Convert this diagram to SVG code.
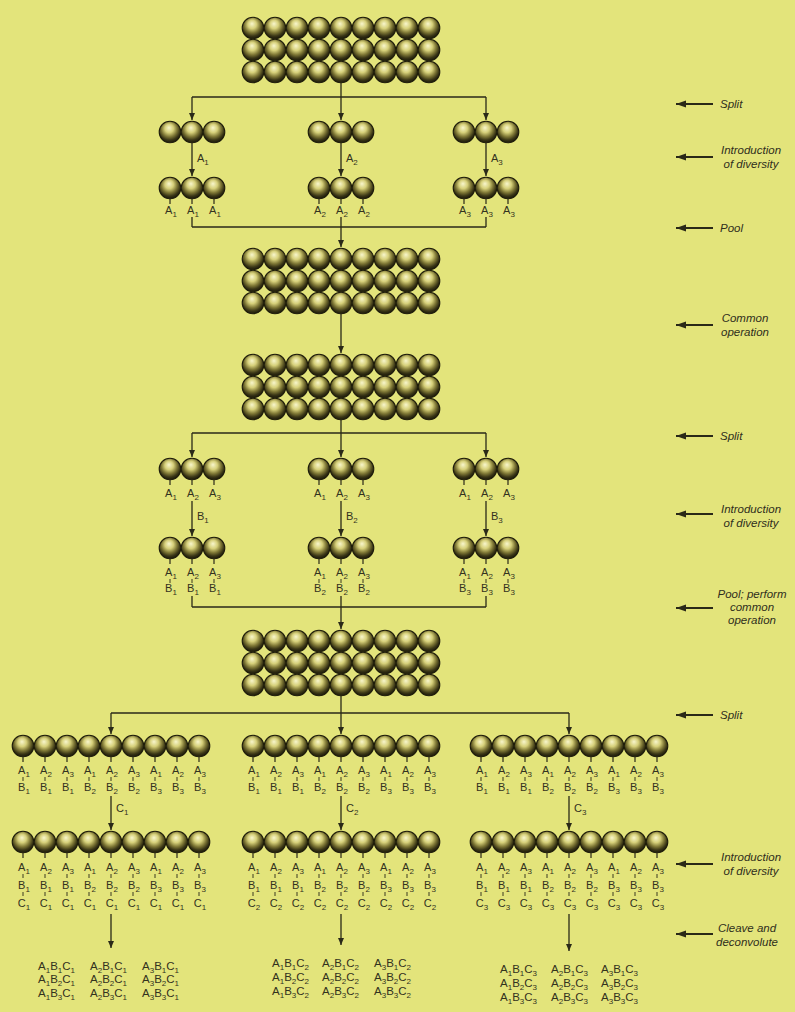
<svg xmlns="http://www.w3.org/2000/svg" xmlns:xlink="http://www.w3.org/1999/xlink" width="795" height="1012" viewBox="0 0 795 1012">
<style>
.bead{fill:url(#bg);stroke:#1f1d0b;stroke-width:1.1}
.ln{stroke:#2a2918;stroke-width:1.3;fill:none}
.ar{marker-end:url(#ah)}
.st{stroke:#2a2918;stroke-width:1.2}
.tk{stroke:#3b3a22;stroke-width:1}
.lb{font-family:"Liberation Sans",Arial,sans-serif;font-size:11px;fill:#33321e;text-anchor:middle}
.la{font-family:"Liberation Sans",Arial,sans-serif;font-size:11px;fill:#33321e}
.cb{font-family:"Liberation Sans",Arial,sans-serif;font-size:11.5px;fill:#33321e}
.sb{font-size:8px}
.side{font-family:"Liberation Sans",Arial,sans-serif;font-style:italic;font-size:11.5px;fill:#2f2e1c}
.mid{text-anchor:middle}
.sa{stroke:#2a2918;stroke-width:2.2;marker-end:url(#ahb)}
</style>
<defs>
<radialGradient id="bg" cx="0.48" cy="0.4" r="0.6" fx="0.45" fy="0.3">
<stop offset="0" stop-color="#f8f6cc"/>
<stop offset="0.33" stop-color="#d6d07a"/>
<stop offset="0.6" stop-color="#7f7836"/>
<stop offset="0.82" stop-color="#3a3616"/>
<stop offset="1" stop-color="#1a180a"/>
</radialGradient>
<marker id="ah" markerUnits="userSpaceOnUse" markerWidth="9" markerHeight="8" refX="7" refY="3" orient="auto">
<path d="M0,0 L7,3 L0,6 z" fill="#2a2918"/>
</marker>
<marker id="ahb" markerUnits="userSpaceOnUse" markerWidth="12" markerHeight="10" refX="10" refY="3.5" orient="auto">
<path d="M0,0 L10,3.5 L0,7 z" fill="#2a2918"/>
</marker>
<g id="row3">
<circle class="bead" cx="-22" cy="0" r="10.8"/>
<circle class="bead" cx="0" cy="0" r="10.8"/>
<circle class="bead" cx="22" cy="0" r="10.8"/>
</g>
<g id="row9">
<circle class="bead" cx="-88" cy="0" r="10.8"/>
<circle class="bead" cx="-66" cy="0" r="10.8"/>
<circle class="bead" cx="-44" cy="0" r="10.8"/>
<circle class="bead" cx="-22" cy="0" r="10.8"/>
<circle class="bead" cx="0" cy="0" r="10.8"/>
<circle class="bead" cx="22" cy="0" r="10.8"/>
<circle class="bead" cx="44" cy="0" r="10.8"/>
<circle class="bead" cx="66" cy="0" r="10.8"/>
<circle class="bead" cx="88" cy="0" r="10.8"/>
</g>
<g id="grid">
<use href="#row9" y="-22"/>
<use href="#row9" y="0"/>
<use href="#row9" y="22"/>
</g>
<g id="stem3">
<line class="st" x1="-22" y1="11" x2="-22" y2="16"/>
<line class="st" x1="0" y1="11" x2="0" y2="16"/>
<line class="st" x1="22" y1="11" x2="22" y2="16"/>
</g>
<g id="stem9">
<line class="st" x1="-88" y1="11" x2="-88" y2="16"/>
<line class="st" x1="-66" y1="11" x2="-66" y2="16"/>
<line class="st" x1="-44" y1="11" x2="-44" y2="16"/>
<line class="st" x1="-22" y1="11" x2="-22" y2="16"/>
<line class="st" x1="0" y1="11" x2="0" y2="16"/>
<line class="st" x1="22" y1="11" x2="22" y2="16"/>
<line class="st" x1="44" y1="11" x2="44" y2="16"/>
<line class="st" x1="66" y1="11" x2="66" y2="16"/>
<line class="st" x1="88" y1="11" x2="88" y2="16"/>
</g>
<g id="tick3">
<line class="tk" x1="-22" y1="0" x2="-22" y2="4"/>
<line class="tk" x1="0" y1="0" x2="0" y2="4"/>
<line class="tk" x1="22" y1="0" x2="22" y2="4"/>
</g>
<g id="tick9">
<line class="tk" x1="-88" y1="0" x2="-88" y2="4"/>
<line class="tk" x1="-66" y1="0" x2="-66" y2="4"/>
<line class="tk" x1="-44" y1="0" x2="-44" y2="4"/>
<line class="tk" x1="-22" y1="0" x2="-22" y2="4"/>
<line class="tk" x1="0" y1="0" x2="0" y2="4"/>
<line class="tk" x1="22" y1="0" x2="22" y2="4"/>
<line class="tk" x1="44" y1="0" x2="44" y2="4"/>
<line class="tk" x1="66" y1="0" x2="66" y2="4"/>
<line class="tk" x1="88" y1="0" x2="88" y2="4"/>
</g>
</defs>

<rect width="795" height="1012" fill="#e3e47b"/>

<!-- connectors -->
<g id="connectors">
<line class="ln" x1="341" y1="83" x2="341" y2="97"/>
<line class="ln" x1="192" y1="97" x2="486" y2="97"/>
<line class="ln ar" x1="192" y1="97" x2="192" y2="120"/>
<line class="ln ar" x1="341" y1="97" x2="341" y2="120"/>
<line class="ln ar" x1="486" y1="97" x2="486" y2="120"/>
<line class="ln ar" x1="192" y1="143" x2="192" y2="176"/>
<line class="ln ar" x1="341" y1="143" x2="341" y2="176"/>
<line class="ln ar" x1="486" y1="143" x2="486" y2="176"/>
<line class="ln" x1="192" y1="217" x2="192" y2="227"/>
<line class="ln" x1="341" y1="217" x2="341" y2="227"/>
<line class="ln" x1="486" y1="217" x2="486" y2="227"/>
<line class="ln" x1="192" y1="227" x2="486" y2="227"/>
<line class="ln ar" x1="341" y1="227" x2="341" y2="247"/>
<line class="ln ar" x1="341" y1="314" x2="341" y2="353"/>
<line class="ln" x1="341" y1="420" x2="341" y2="433"/>
<line class="ln" x1="192" y1="433" x2="486" y2="433"/>
<line class="ln ar" x1="192" y1="433" x2="192" y2="457"/>
<line class="ln ar" x1="341" y1="433" x2="341" y2="457"/>
<line class="ln ar" x1="486" y1="433" x2="486" y2="457"/>
<line class="ln ar" x1="192" y1="501" x2="192" y2="536"/>
<line class="ln ar" x1="341" y1="501" x2="341" y2="536"/>
<line class="ln ar" x1="486" y1="501" x2="486" y2="536"/>
<line class="ln" x1="192" y1="596" x2="192" y2="607"/>
<line class="ln" x1="341" y1="596" x2="341" y2="607"/>
<line class="ln" x1="486" y1="596" x2="486" y2="607"/>
<line class="ln" x1="192" y1="607" x2="486" y2="607"/>
<line class="ln ar" x1="341" y1="607" x2="341" y2="629"/>
<line class="ln" x1="341" y1="696" x2="341" y2="713"/>
<line class="ln" x1="111" y1="713" x2="569" y2="713"/>
<line class="ln ar" x1="111" y1="713" x2="111" y2="734"/>
<line class="ln ar" x1="341" y1="713" x2="341" y2="734"/>
<line class="ln ar" x1="569" y1="713" x2="569" y2="734"/>
<line class="ln ar" x1="111" y1="796" x2="111" y2="830"/>
<line class="ln ar" x1="341" y1="796" x2="341" y2="830"/>
<line class="ln ar" x1="569" y1="796" x2="569" y2="830"/>
<line class="ln ar" x1="111" y1="914" x2="111" y2="948"/>
<line class="ln ar" x1="341" y1="914" x2="341" y2="945"/>
<line class="ln ar" x1="569" y1="914" x2="569" y2="951"/>
</g>

<!-- reagent labels beside the diversity arrows -->
<g id="reagents" class="la">
<text x="197" y="162">A<tspan class="sb" dy="2.5">1</tspan></text>
<text x="346" y="162">A<tspan class="sb" dy="2.5">2</tspan></text>
<text x="491" y="162">A<tspan class="sb" dy="2.5">3</tspan></text>
<text x="197" y="520">B<tspan class="sb" dy="2.5">1</tspan></text>
<text x="346" y="520">B<tspan class="sb" dy="2.5">2</tspan></text>
<text x="491" y="520">B<tspan class="sb" dy="2.5">3</tspan></text>
<text x="116" y="812">C<tspan class="sb" dy="2.5">1</tspan></text>
<text x="346" y="812">C<tspan class="sb" dy="2.5">2</tspan></text>
<text x="574" y="812">C<tspan class="sb" dy="2.5">3</tspan></text>
</g>

<!-- starting pool -->
<g id="pool0"><use href="#grid" x="341" y="50"/></g>

<!-- first split -->
<g id="s1a"><use href="#row3" x="192" y="132"/></g>
<g id="s1b"><use href="#row3" x="341" y="132"/></g>
<g id="s1c"><use href="#row3" x="486" y="132"/></g>

<g id="a1set">
<use href="#row3" x="192" y="188"/><use href="#stem3" x="192" y="188"/>
<g class="lb">
<text x="171" y="214">A<tspan class="sb" dy="2.5">1</tspan></text>
<text x="193" y="214">A<tspan class="sb" dy="2.5">1</tspan></text>
<text x="215" y="214">A<tspan class="sb" dy="2.5">1</tspan></text>
</g></g>
<g id="a2set">
<use href="#row3" x="341" y="188"/><use href="#stem3" x="341" y="188"/>
<g class="lb">
<text x="320" y="214">A<tspan class="sb" dy="2.5">2</tspan></text>
<text x="342" y="214">A<tspan class="sb" dy="2.5">2</tspan></text>
<text x="364" y="214">A<tspan class="sb" dy="2.5">2</tspan></text>
</g></g>
<g id="a3set">
<use href="#row3" x="486" y="188"/><use href="#stem3" x="486" y="188"/>
<g class="lb">
<text x="465" y="214">A<tspan class="sb" dy="2.5">3</tspan></text>
<text x="487" y="214">A<tspan class="sb" dy="2.5">3</tspan></text>
<text x="509" y="214">A<tspan class="sb" dy="2.5">3</tspan></text>
</g></g>

<!-- pooled A library, before and after common step -->
<g id="pool1"><use href="#grid" x="341" y="281"/></g>
<g id="pool2"><use href="#grid" x="341" y="387"/></g>

<!-- second split -->
<g id="s2a">
<use href="#row3" x="192" y="469"/><use href="#stem3" x="192" y="469"/>
<g class="lb">
<text x="171" y="497">A<tspan class="sb" dy="2.5">1</tspan></text>
<text x="193" y="497">A<tspan class="sb" dy="2.5">2</tspan></text>
<text x="215" y="497">A<tspan class="sb" dy="2.5">3</tspan></text>
</g></g>
<g id="s2b">
<use href="#row3" x="341" y="469"/><use href="#stem3" x="341" y="469"/>
<g class="lb">
<text x="320" y="497">A<tspan class="sb" dy="2.5">1</tspan></text>
<text x="342" y="497">A<tspan class="sb" dy="2.5">2</tspan></text>
<text x="364" y="497">A<tspan class="sb" dy="2.5">3</tspan></text>
</g></g>
<g id="s2c">
<use href="#row3" x="486" y="469"/><use href="#stem3" x="486" y="469"/>
<g class="lb">
<text x="465" y="497">A<tspan class="sb" dy="2.5">1</tspan></text>
<text x="487" y="497">A<tspan class="sb" dy="2.5">2</tspan></text>
<text x="509" y="497">A<tspan class="sb" dy="2.5">3</tspan></text>
</g></g>

<g id="b1set">
<use href="#row3" x="192" y="548"/><use href="#stem3" x="192" y="548"/><use href="#tick3" x="192" y="579"/>
<g class="lb">
<text x="171" y="576">A<tspan class="sb" dy="2.5">1</tspan></text>
<text x="193" y="576">A<tspan class="sb" dy="2.5">2</tspan></text>
<text x="215" y="576">A<tspan class="sb" dy="2.5">3</tspan></text>
<text x="171" y="592">B<tspan class="sb" dy="2.5">1</tspan></text>
<text x="193" y="592">B<tspan class="sb" dy="2.5">1</tspan></text>
<text x="215" y="592">B<tspan class="sb" dy="2.5">1</tspan></text>
</g></g>
<g id="b2set">
<use href="#row3" x="341" y="548"/><use href="#stem3" x="341" y="548"/><use href="#tick3" x="341" y="579"/>
<g class="lb">
<text x="320" y="576">A<tspan class="sb" dy="2.5">1</tspan></text>
<text x="342" y="576">A<tspan class="sb" dy="2.5">2</tspan></text>
<text x="364" y="576">A<tspan class="sb" dy="2.5">3</tspan></text>
<text x="320" y="592">B<tspan class="sb" dy="2.5">2</tspan></text>
<text x="342" y="592">B<tspan class="sb" dy="2.5">2</tspan></text>
<text x="364" y="592">B<tspan class="sb" dy="2.5">2</tspan></text>
</g></g>
<g id="b3set">
<use href="#row3" x="486" y="548"/><use href="#stem3" x="486" y="548"/><use href="#tick3" x="486" y="579"/>
<g class="lb">
<text x="465" y="576">A<tspan class="sb" dy="2.5">1</tspan></text>
<text x="487" y="576">A<tspan class="sb" dy="2.5">2</tspan></text>
<text x="509" y="576">A<tspan class="sb" dy="2.5">3</tspan></text>
<text x="465" y="592">B<tspan class="sb" dy="2.5">3</tspan></text>
<text x="487" y="592">B<tspan class="sb" dy="2.5">3</tspan></text>
<text x="509" y="592">B<tspan class="sb" dy="2.5">3</tspan></text>
</g></g>

<!-- pooled AB library -->
<g id="pool3"><use href="#grid" x="341" y="663"/></g>

<!-- third split: left -->
<g id="s3a">
<use href="#row9" x="111" y="746"/><use href="#stem9" x="111" y="746"/><use href="#tick9" x="111" y="777"/>
<g class="lb">
<text x="24" y="774">A<tspan class="sb" dy="2.5">1</tspan></text>
<text x="46" y="774">A<tspan class="sb" dy="2.5">2</tspan></text>
<text x="68" y="774">A<tspan class="sb" dy="2.5">3</tspan></text>
<text x="90" y="774">A<tspan class="sb" dy="2.5">1</tspan></text>
<text x="112" y="774">A<tspan class="sb" dy="2.5">2</tspan></text>
<text x="134" y="774">A<tspan class="sb" dy="2.5">3</tspan></text>
<text x="156" y="774">A<tspan class="sb" dy="2.5">1</tspan></text>
<text x="178" y="774">A<tspan class="sb" dy="2.5">2</tspan></text>
<text x="200" y="774">A<tspan class="sb" dy="2.5">3</tspan></text>
<text x="24" y="791">B<tspan class="sb" dy="2.5">1</tspan></text>
<text x="46" y="791">B<tspan class="sb" dy="2.5">1</tspan></text>
<text x="68" y="791">B<tspan class="sb" dy="2.5">1</tspan></text>
<text x="90" y="791">B<tspan class="sb" dy="2.5">2</tspan></text>
<text x="112" y="791">B<tspan class="sb" dy="2.5">2</tspan></text>
<text x="134" y="791">B<tspan class="sb" dy="2.5">2</tspan></text>
<text x="156" y="791">B<tspan class="sb" dy="2.5">3</tspan></text>
<text x="178" y="791">B<tspan class="sb" dy="2.5">3</tspan></text>
<text x="200" y="791">B<tspan class="sb" dy="2.5">3</tspan></text>
</g></g>
<!-- third split: middle -->
<g id="s3b">
<use href="#row9" x="341" y="746"/><use href="#stem9" x="341" y="746"/><use href="#tick9" x="341" y="777"/>
<g class="lb">
<text x="254" y="774">A<tspan class="sb" dy="2.5">1</tspan></text>
<text x="276" y="774">A<tspan class="sb" dy="2.5">2</tspan></text>
<text x="298" y="774">A<tspan class="sb" dy="2.5">3</tspan></text>
<text x="320" y="774">A<tspan class="sb" dy="2.5">1</tspan></text>
<text x="342" y="774">A<tspan class="sb" dy="2.5">2</tspan></text>
<text x="364" y="774">A<tspan class="sb" dy="2.5">3</tspan></text>
<text x="386" y="774">A<tspan class="sb" dy="2.5">1</tspan></text>
<text x="408" y="774">A<tspan class="sb" dy="2.5">2</tspan></text>
<text x="430" y="774">A<tspan class="sb" dy="2.5">3</tspan></text>
<text x="254" y="791">B<tspan class="sb" dy="2.5">1</tspan></text>
<text x="276" y="791">B<tspan class="sb" dy="2.5">1</tspan></text>
<text x="298" y="791">B<tspan class="sb" dy="2.5">1</tspan></text>
<text x="320" y="791">B<tspan class="sb" dy="2.5">2</tspan></text>
<text x="342" y="791">B<tspan class="sb" dy="2.5">2</tspan></text>
<text x="364" y="791">B<tspan class="sb" dy="2.5">2</tspan></text>
<text x="386" y="791">B<tspan class="sb" dy="2.5">3</tspan></text>
<text x="408" y="791">B<tspan class="sb" dy="2.5">3</tspan></text>
<text x="430" y="791">B<tspan class="sb" dy="2.5">3</tspan></text>
</g></g>
<!-- third split: right -->
<g id="s3c">
<use href="#row9" x="569" y="746"/><use href="#stem9" x="569" y="746"/><use href="#tick9" x="569" y="777"/>
<g class="lb">
<text x="482" y="774">A<tspan class="sb" dy="2.5">1</tspan></text>
<text x="504" y="774">A<tspan class="sb" dy="2.5">2</tspan></text>
<text x="526" y="774">A<tspan class="sb" dy="2.5">3</tspan></text>
<text x="548" y="774">A<tspan class="sb" dy="2.5">1</tspan></text>
<text x="570" y="774">A<tspan class="sb" dy="2.5">2</tspan></text>
<text x="592" y="774">A<tspan class="sb" dy="2.5">3</tspan></text>
<text x="614" y="774">A<tspan class="sb" dy="2.5">1</tspan></text>
<text x="636" y="774">A<tspan class="sb" dy="2.5">2</tspan></text>
<text x="658" y="774">A<tspan class="sb" dy="2.5">3</tspan></text>
<text x="482" y="791">B<tspan class="sb" dy="2.5">1</tspan></text>
<text x="504" y="791">B<tspan class="sb" dy="2.5">1</tspan></text>
<text x="526" y="791">B<tspan class="sb" dy="2.5">1</tspan></text>
<text x="548" y="791">B<tspan class="sb" dy="2.5">2</tspan></text>
<text x="570" y="791">B<tspan class="sb" dy="2.5">2</tspan></text>
<text x="592" y="791">B<tspan class="sb" dy="2.5">2</tspan></text>
<text x="614" y="791">B<tspan class="sb" dy="2.5">3</tspan></text>
<text x="636" y="791">B<tspan class="sb" dy="2.5">3</tspan></text>
<text x="658" y="791">B<tspan class="sb" dy="2.5">3</tspan></text>
</g></g>

<!-- C-coupled sets -->
<g id="c1set">
<use href="#row9" x="111" y="842"/><use href="#stem9" x="111" y="842"/><use href="#tick9" x="111" y="874"/><use href="#tick9" x="111" y="892"/>
<g class="lb">
<text x="24" y="871">A<tspan class="sb" dy="2.5">1</tspan></text>
<text x="46" y="871">A<tspan class="sb" dy="2.5">2</tspan></text>
<text x="68" y="871">A<tspan class="sb" dy="2.5">3</tspan></text>
<text x="90" y="871">A<tspan class="sb" dy="2.5">1</tspan></text>
<text x="112" y="871">A<tspan class="sb" dy="2.5">2</tspan></text>
<text x="134" y="871">A<tspan class="sb" dy="2.5">3</tspan></text>
<text x="156" y="871">A<tspan class="sb" dy="2.5">1</tspan></text>
<text x="178" y="871">A<tspan class="sb" dy="2.5">2</tspan></text>
<text x="200" y="871">A<tspan class="sb" dy="2.5">3</tspan></text>
<text x="24" y="889">B<tspan class="sb" dy="2.5">1</tspan></text>
<text x="46" y="889">B<tspan class="sb" dy="2.5">1</tspan></text>
<text x="68" y="889">B<tspan class="sb" dy="2.5">1</tspan></text>
<text x="90" y="889">B<tspan class="sb" dy="2.5">2</tspan></text>
<text x="112" y="889">B<tspan class="sb" dy="2.5">2</tspan></text>
<text x="134" y="889">B<tspan class="sb" dy="2.5">2</tspan></text>
<text x="156" y="889">B<tspan class="sb" dy="2.5">3</tspan></text>
<text x="178" y="889">B<tspan class="sb" dy="2.5">3</tspan></text>
<text x="200" y="889">B<tspan class="sb" dy="2.5">3</tspan></text>
<text x="24" y="907">C<tspan class="sb" dy="2.5">1</tspan></text>
<text x="46" y="907">C<tspan class="sb" dy="2.5">1</tspan></text>
<text x="68" y="907">C<tspan class="sb" dy="2.5">1</tspan></text>
<text x="90" y="907">C<tspan class="sb" dy="2.5">1</tspan></text>
<text x="112" y="907">C<tspan class="sb" dy="2.5">1</tspan></text>
<text x="134" y="907">C<tspan class="sb" dy="2.5">1</tspan></text>
<text x="156" y="907">C<tspan class="sb" dy="2.5">1</tspan></text>
<text x="178" y="907">C<tspan class="sb" dy="2.5">1</tspan></text>
<text x="200" y="907">C<tspan class="sb" dy="2.5">1</tspan></text>
</g></g>
<g id="c2set">
<use href="#row9" x="341" y="842"/><use href="#stem9" x="341" y="842"/><use href="#tick9" x="341" y="874"/><use href="#tick9" x="341" y="892"/>
<g class="lb">
<text x="254" y="871">A<tspan class="sb" dy="2.5">1</tspan></text>
<text x="276" y="871">A<tspan class="sb" dy="2.5">2</tspan></text>
<text x="298" y="871">A<tspan class="sb" dy="2.5">3</tspan></text>
<text x="320" y="871">A<tspan class="sb" dy="2.5">1</tspan></text>
<text x="342" y="871">A<tspan class="sb" dy="2.5">2</tspan></text>
<text x="364" y="871">A<tspan class="sb" dy="2.5">3</tspan></text>
<text x="386" y="871">A<tspan class="sb" dy="2.5">1</tspan></text>
<text x="408" y="871">A<tspan class="sb" dy="2.5">2</tspan></text>
<text x="430" y="871">A<tspan class="sb" dy="2.5">3</tspan></text>
<text x="254" y="889">B<tspan class="sb" dy="2.5">1</tspan></text>
<text x="276" y="889">B<tspan class="sb" dy="2.5">1</tspan></text>
<text x="298" y="889">B<tspan class="sb" dy="2.5">1</tspan></text>
<text x="320" y="889">B<tspan class="sb" dy="2.5">2</tspan></text>
<text x="342" y="889">B<tspan class="sb" dy="2.5">2</tspan></text>
<text x="364" y="889">B<tspan class="sb" dy="2.5">2</tspan></text>
<text x="386" y="889">B<tspan class="sb" dy="2.5">3</tspan></text>
<text x="408" y="889">B<tspan class="sb" dy="2.5">3</tspan></text>
<text x="430" y="889">B<tspan class="sb" dy="2.5">3</tspan></text>
<text x="254" y="907">C<tspan class="sb" dy="2.5">2</tspan></text>
<text x="276" y="907">C<tspan class="sb" dy="2.5">2</tspan></text>
<text x="298" y="907">C<tspan class="sb" dy="2.5">2</tspan></text>
<text x="320" y="907">C<tspan class="sb" dy="2.5">2</tspan></text>
<text x="342" y="907">C<tspan class="sb" dy="2.5">2</tspan></text>
<text x="364" y="907">C<tspan class="sb" dy="2.5">2</tspan></text>
<text x="386" y="907">C<tspan class="sb" dy="2.5">2</tspan></text>
<text x="408" y="907">C<tspan class="sb" dy="2.5">2</tspan></text>
<text x="430" y="907">C<tspan class="sb" dy="2.5">2</tspan></text>
</g></g>
<g id="c3set">
<use href="#row9" x="569" y="842"/><use href="#stem9" x="569" y="842"/><use href="#tick9" x="569" y="874"/><use href="#tick9" x="569" y="892"/>
<g class="lb">
<text x="482" y="871">A<tspan class="sb" dy="2.5">1</tspan></text>
<text x="504" y="871">A<tspan class="sb" dy="2.5">2</tspan></text>
<text x="526" y="871">A<tspan class="sb" dy="2.5">3</tspan></text>
<text x="548" y="871">A<tspan class="sb" dy="2.5">1</tspan></text>
<text x="570" y="871">A<tspan class="sb" dy="2.5">2</tspan></text>
<text x="592" y="871">A<tspan class="sb" dy="2.5">3</tspan></text>
<text x="614" y="871">A<tspan class="sb" dy="2.5">1</tspan></text>
<text x="636" y="871">A<tspan class="sb" dy="2.5">2</tspan></text>
<text x="658" y="871">A<tspan class="sb" dy="2.5">3</tspan></text>
<text x="482" y="889">B<tspan class="sb" dy="2.5">1</tspan></text>
<text x="504" y="889">B<tspan class="sb" dy="2.5">1</tspan></text>
<text x="526" y="889">B<tspan class="sb" dy="2.5">1</tspan></text>
<text x="548" y="889">B<tspan class="sb" dy="2.5">2</tspan></text>
<text x="570" y="889">B<tspan class="sb" dy="2.5">2</tspan></text>
<text x="592" y="889">B<tspan class="sb" dy="2.5">2</tspan></text>
<text x="614" y="889">B<tspan class="sb" dy="2.5">3</tspan></text>
<text x="636" y="889">B<tspan class="sb" dy="2.5">3</tspan></text>
<text x="658" y="889">B<tspan class="sb" dy="2.5">3</tspan></text>
<text x="482" y="907">C<tspan class="sb" dy="2.5">3</tspan></text>
<text x="504" y="907">C<tspan class="sb" dy="2.5">3</tspan></text>
<text x="526" y="907">C<tspan class="sb" dy="2.5">3</tspan></text>
<text x="548" y="907">C<tspan class="sb" dy="2.5">3</tspan></text>
<text x="570" y="907">C<tspan class="sb" dy="2.5">3</tspan></text>
<text x="592" y="907">C<tspan class="sb" dy="2.5">3</tspan></text>
<text x="614" y="907">C<tspan class="sb" dy="2.5">3</tspan></text>
<text x="636" y="907">C<tspan class="sb" dy="2.5">3</tspan></text>
<text x="658" y="907">C<tspan class="sb" dy="2.5">3</tspan></text>
</g></g>

<!-- cleaved products -->
<g id="prodC1" class="cb">
<text x="38" y="970">A<tspan class="sb" dy="2.5">1</tspan><tspan dy="-2.5">B</tspan><tspan class="sb" dy="2.5">1</tspan><tspan dy="-2.5">C</tspan><tspan class="sb" dy="2.5">1</tspan></text>
<text x="90" y="970">A<tspan class="sb" dy="2.5">2</tspan><tspan dy="-2.5">B</tspan><tspan class="sb" dy="2.5">1</tspan><tspan dy="-2.5">C</tspan><tspan class="sb" dy="2.5">1</tspan></text>
<text x="142" y="970">A<tspan class="sb" dy="2.5">3</tspan><tspan dy="-2.5">B</tspan><tspan class="sb" dy="2.5">1</tspan><tspan dy="-2.5">C</tspan><tspan class="sb" dy="2.5">1</tspan></text>
<text x="38" y="983">A<tspan class="sb" dy="2.5">1</tspan><tspan dy="-2.5">B</tspan><tspan class="sb" dy="2.5">2</tspan><tspan dy="-2.5">C</tspan><tspan class="sb" dy="2.5">1</tspan></text>
<text x="90" y="983">A<tspan class="sb" dy="2.5">2</tspan><tspan dy="-2.5">B</tspan><tspan class="sb" dy="2.5">2</tspan><tspan dy="-2.5">C</tspan><tspan class="sb" dy="2.5">1</tspan></text>
<text x="142" y="983">A<tspan class="sb" dy="2.5">3</tspan><tspan dy="-2.5">B</tspan><tspan class="sb" dy="2.5">2</tspan><tspan dy="-2.5">C</tspan><tspan class="sb" dy="2.5">1</tspan></text>
<text x="38" y="997">A<tspan class="sb" dy="2.5">1</tspan><tspan dy="-2.5">B</tspan><tspan class="sb" dy="2.5">3</tspan><tspan dy="-2.5">C</tspan><tspan class="sb" dy="2.5">1</tspan></text>
<text x="90" y="997">A<tspan class="sb" dy="2.5">2</tspan><tspan dy="-2.5">B</tspan><tspan class="sb" dy="2.5">3</tspan><tspan dy="-2.5">C</tspan><tspan class="sb" dy="2.5">1</tspan></text>
<text x="142" y="997">A<tspan class="sb" dy="2.5">3</tspan><tspan dy="-2.5">B</tspan><tspan class="sb" dy="2.5">3</tspan><tspan dy="-2.5">C</tspan><tspan class="sb" dy="2.5">1</tspan></text>
</g>
<g id="prodC2" class="cb">
<text x="272" y="967">A<tspan class="sb" dy="2.5">1</tspan><tspan dy="-2.5">B</tspan><tspan class="sb" dy="2.5">1</tspan><tspan dy="-2.5">C</tspan><tspan class="sb" dy="2.5">2</tspan></text>
<text x="322" y="967">A<tspan class="sb" dy="2.5">2</tspan><tspan dy="-2.5">B</tspan><tspan class="sb" dy="2.5">1</tspan><tspan dy="-2.5">C</tspan><tspan class="sb" dy="2.5">2</tspan></text>
<text x="374" y="967">A<tspan class="sb" dy="2.5">3</tspan><tspan dy="-2.5">B</tspan><tspan class="sb" dy="2.5">1</tspan><tspan dy="-2.5">C</tspan><tspan class="sb" dy="2.5">2</tspan></text>
<text x="272" y="981">A<tspan class="sb" dy="2.5">1</tspan><tspan dy="-2.5">B</tspan><tspan class="sb" dy="2.5">2</tspan><tspan dy="-2.5">C</tspan><tspan class="sb" dy="2.5">2</tspan></text>
<text x="322" y="981">A<tspan class="sb" dy="2.5">2</tspan><tspan dy="-2.5">B</tspan><tspan class="sb" dy="2.5">2</tspan><tspan dy="-2.5">C</tspan><tspan class="sb" dy="2.5">2</tspan></text>
<text x="374" y="981">A<tspan class="sb" dy="2.5">3</tspan><tspan dy="-2.5">B</tspan><tspan class="sb" dy="2.5">2</tspan><tspan dy="-2.5">C</tspan><tspan class="sb" dy="2.5">2</tspan></text>
<text x="272" y="995">A<tspan class="sb" dy="2.5">1</tspan><tspan dy="-2.5">B</tspan><tspan class="sb" dy="2.5">3</tspan><tspan dy="-2.5">C</tspan><tspan class="sb" dy="2.5">2</tspan></text>
<text x="322" y="995">A<tspan class="sb" dy="2.5">2</tspan><tspan dy="-2.5">B</tspan><tspan class="sb" dy="2.5">3</tspan><tspan dy="-2.5">C</tspan><tspan class="sb" dy="2.5">2</tspan></text>
<text x="374" y="995">A<tspan class="sb" dy="2.5">3</tspan><tspan dy="-2.5">B</tspan><tspan class="sb" dy="2.5">3</tspan><tspan dy="-2.5">C</tspan><tspan class="sb" dy="2.5">2</tspan></text>
</g>
<g id="prodC3" class="cb">
<text x="500" y="973">A<tspan class="sb" dy="2.5">1</tspan><tspan dy="-2.5">B</tspan><tspan class="sb" dy="2.5">1</tspan><tspan dy="-2.5">C</tspan><tspan class="sb" dy="2.5">3</tspan></text>
<text x="551" y="973">A<tspan class="sb" dy="2.5">2</tspan><tspan dy="-2.5">B</tspan><tspan class="sb" dy="2.5">1</tspan><tspan dy="-2.5">C</tspan><tspan class="sb" dy="2.5">3</tspan></text>
<text x="601" y="973">A<tspan class="sb" dy="2.5">3</tspan><tspan dy="-2.5">B</tspan><tspan class="sb" dy="2.5">1</tspan><tspan dy="-2.5">C</tspan><tspan class="sb" dy="2.5">3</tspan></text>
<text x="500" y="987">A<tspan class="sb" dy="2.5">1</tspan><tspan dy="-2.5">B</tspan><tspan class="sb" dy="2.5">2</tspan><tspan dy="-2.5">C</tspan><tspan class="sb" dy="2.5">3</tspan></text>
<text x="551" y="987">A<tspan class="sb" dy="2.5">2</tspan><tspan dy="-2.5">B</tspan><tspan class="sb" dy="2.5">2</tspan><tspan dy="-2.5">C</tspan><tspan class="sb" dy="2.5">3</tspan></text>
<text x="601" y="987">A<tspan class="sb" dy="2.5">3</tspan><tspan dy="-2.5">B</tspan><tspan class="sb" dy="2.5">2</tspan><tspan dy="-2.5">C</tspan><tspan class="sb" dy="2.5">3</tspan></text>
<text x="500" y="1001">A<tspan class="sb" dy="2.5">1</tspan><tspan dy="-2.5">B</tspan><tspan class="sb" dy="2.5">3</tspan><tspan dy="-2.5">C</tspan><tspan class="sb" dy="2.5">3</tspan></text>
<text x="551" y="1001">A<tspan class="sb" dy="2.5">2</tspan><tspan dy="-2.5">B</tspan><tspan class="sb" dy="2.5">3</tspan><tspan dy="-2.5">C</tspan><tspan class="sb" dy="2.5">3</tspan></text>
<text x="601" y="1001">A<tspan class="sb" dy="2.5">3</tspan><tspan dy="-2.5">B</tspan><tspan class="sb" dy="2.5">3</tspan><tspan dy="-2.5">C</tspan><tspan class="sb" dy="2.5">3</tspan></text>
</g>

<!-- step captions -->
<g id="steps">
<line class="sa" x1="713" y1="104" x2="676" y2="104"/>
<text class="side" x="720" y="108">Split</text>
<line class="sa" x1="713" y1="157" x2="676" y2="157"/>
<text class="side mid" x="751" y="154">Introduction</text>
<text class="side mid" x="751" y="168">of diversity</text>
<line class="sa" x1="713" y1="228" x2="676" y2="228"/>
<text class="side" x="720" y="232">Pool</text>
<line class="sa" x1="713" y1="325" x2="676" y2="325"/>
<text class="side mid" x="745" y="322">Common</text>
<text class="side mid" x="745" y="336">operation</text>
<line class="sa" x1="713" y1="436" x2="676" y2="436"/>
<text class="side" x="720" y="440">Split</text>
<line class="sa" x1="713" y1="514" x2="676" y2="514"/>
<text class="side mid" x="751" y="513">Introduction</text>
<text class="side mid" x="751" y="527">of diversity</text>
<line class="sa" x1="713" y1="608" x2="676" y2="608"/>
<text class="side mid" x="752" y="598">Pool; perform</text>
<text class="side mid" x="752" y="611">common</text>
<text class="side mid" x="752" y="624">operation</text>
<line class="sa" x1="713" y1="715" x2="676" y2="715"/>
<text class="side" x="720" y="719">Split</text>
<line class="sa" x1="713" y1="864" x2="676" y2="864"/>
<text class="side mid" x="751" y="861">Introduction</text>
<text class="side mid" x="751" y="875">of diversity</text>
<line class="sa" x1="713" y1="934" x2="676" y2="934"/>
<text class="side mid" x="747" y="932">Cleave and</text>
<text class="side mid" x="747" y="946">deconvolute</text>
</g>
</svg>
